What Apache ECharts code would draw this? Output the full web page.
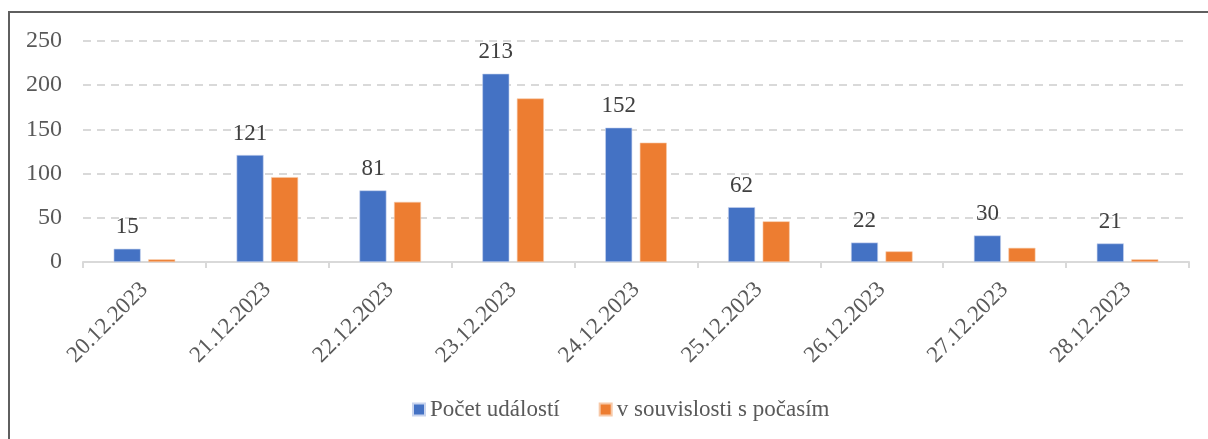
<!DOCTYPE html>
<html>
<head>
<meta charset="utf-8">
<script src="https://cdn.jsdelivr.net/npm/echarts@6/dist/echarts.min.js"></script>
<style>
  html, body { margin: 0; padding: 0; background: #fff; }
  #chart { width: 1208px; height: 439px; }
</style>
</head>
<body>
<div id="chart"></div>
<script>
// data
const dates = ['20.12.2023', '21.12.2023', '22.12.2023', '23.12.2023', '24.12.2023',
  '25.12.2023', '26.12.2023', '27.12.2023', '28.12.2023']
const udalosti = [15, 121, 81, 213, 152, 62, 22, 30, 21]
const pocasi = [3, 96, 68, 185, 135, 46, 12, 16, 3]
const yTicks = [0, 50, 100, 150, 200, 250]

const font = '"Liberation Serif", "DejaVu Serif", serif'
const chart = echarts.init(document.getElementById('chart'))

chart.setOption({
  animation: false,
  textStyle: { fontFamily: font },
  grid: { left: 83, right: 19, top: 41, bottom: 177 },
  legend: {
    bottom: 13,
    left: 407,
    itemWidth: 12,
    itemHeight: 12,
    itemGap: 39,
    icon: 'rect',
    textStyle: { fontFamily: font, fontSize: 23, color: '#595959' },
    data: ['Počet událostí', 'v souvislosti s počasím']
  },
  xAxis: {
    type: 'category',
    data: dates,
    axisLine: { lineStyle: { color: '#d9d9d9', width: 2 } },
    axisTick: { show: true, length: 6, lineStyle: { color: '#d9d9d9', width: 2 } },
    axisLabel: {
      rotate: 45,
      interval: 0,
      margin: 24,
      color: '#595959',
      fontFamily: font,
      fontSize: 23
    }
  },
  yAxis: {
    type: 'value',
    min: yTicks[0],
    max: yTicks[yTicks.length - 1],
    interval: 50,
    axisLine: { show: false },
    axisTick: { show: false },
    axisLabel: { color: '#595959', fontFamily: font, fontSize: 24, margin: 21 },
    splitLine: { lineStyle: { color: '#d9d9d9', width: 2, type: [8, 6] } }
  },
  series: [
    {
      name: 'Počet událostí',
      type: 'bar',
      data: udalosti,
      barWidth: 27,
      barGap: '28%',
      itemStyle: { color: '#4472C4', borderColor: '#c8d4ee', borderWidth: 0.6 },
      label: {
        show: true,
        position: 'top',
        distance: 10,
        color: '#404040',
        fontFamily: font,
        fontSize: 23
      }
    },
    {
      name: 'v souvislosti s počasím',
      type: 'bar',
      data: pocasi,
      barWidth: 27,
      itemStyle: { color: '#ED7D31', borderColor: '#f7c9a8', borderWidth: 0.6 }
    }
  ],
  graphic: [
    { type: 'line', shape: { x1: 8, y1: 12, x2: 1208, y2: 12 }, style: { stroke: '#5f5f5f', lineWidth: 2 } },
    { type: 'line', shape: { x1: 9, y1: 12, x2: 9, y2: 439 }, style: { stroke: '#5f5f5f', lineWidth: 2 } }
  ]
})
</script>
</body>
</html>
